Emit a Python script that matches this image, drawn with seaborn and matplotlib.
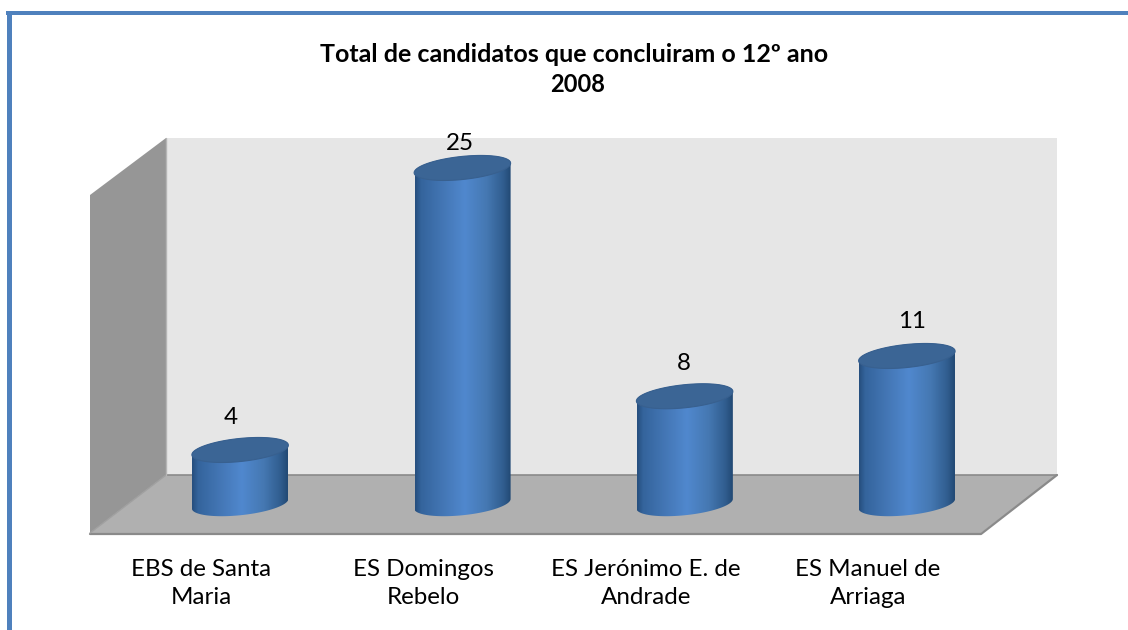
import numpy as np
import pandas as pd
import seaborn as sns
import matplotlib.pyplot as plt
from matplotlib.colors import LinearSegmentedColormap
from matplotlib.patches import Polygon, PathPatch
from matplotlib.path import Path
from matplotlib.transforms import Affine2D, IdentityTransform, ScaledTranslation

schools = ['EBS de Santa\nMaria', 'ES Domingos\nRebelo', 'ES Jerónimo E. de\nAndrade', 'ES Manuel de\nArriaga']
totals = [4, 25, 8, 11]
title_main = 'Total de candidatos que concluiram o 12º ano'
title_year = '2008'

W, H = 1128, 630
sns.set_theme(style='white')
plt.rcParams['font.family'] = ['Lato', 'DejaVu Sans']

fig = plt.figure(figsize=(W / 100, H / 100), dpi=100)
# pixel coords with origin top left, same as the picture
px = Affine2D().scale(1, -1).translate(0, H) + IdentityTransform()


def deco(points, color, z=-5):
    fig.add_artist(Polygon(points, closed=True, facecolor=color, edgecolor='none',
                           transform=px, zorder=z))


# frame
deco([(6, 11), (W, 11), (W, 15), (6, 15)], '#4f81bd')
deco([(7, 11), (12, 11), (12, H), (7, H)], '#4f81bd')

# 3d box behind the bars
deco([(166, 138), (1057, 138), (1057, 475), (166, 475)], '#e6e6e6')
deco([(90, 195), (166, 138), (166, 475), (90, 533)], '#969696')
deco([(90, 533), (166, 475), (1057, 475), (981, 533)], '#b0b0b0')
fig.add_artist(plt.Line2D([90, 981, 1057], [534, 534, 475], color='#8a8a8a', lw=1.6,
                          transform=px, zorder=-4))
fig.add_artist(plt.Line2D([166, 1057], [475, 475], color='#8a8a8a', lw=1.2,
                          transform=px, zorder=-4))
fig.add_artist(plt.Line2D([90, 166], [533, 475], color='#a0a0a0', lw=1,
                          transform=px, zorder=-4))
fig.add_artist(plt.Line2D([166, 166], [138, 475], color='#b5b5b5', lw=1,
                          transform=px, zorder=-4))

# axes area: 13.43 px per candidate, zero at y=503.7 px
top_px, bot_px = 140, 540
ax = fig.add_axes([129 / W, 1 - bot_px / H, (1018 - 129) / W, (bot_px - top_px) / H])
df = pd.DataFrame({'school': schools, 'total': totals})
sns.barplot(data=df, x='school', y='total', width=0.43, saturation=1, ax=ax)
ax.set_xlim(-0.5, 3.5)
ax.set_ylim((503.7 - bot_px) / 13.43, (503.7 - top_px) / 13.43)
ax.patch.set_visible(False)
sns.despine(ax=ax, left=True, bottom=True)
ax.set_yticks([])
ax.set_xlabel('')
ax.set_ylabel('')
ax.tick_params(axis='x', length=0, pad=13.5, labelsize=17.4, colors='black')
for lab in ax.get_xticklabels():
    lab.set_linespacing(1.45)
    lab.set_transform(lab.get_transform() + ScaledTranslation(-0.39, 0, fig.dpi_scale_trans))

cyl = LinearSegmentedColormap.from_list('cyl', [
    (0.0, '#264f7e'), (0.06, '#34649c'), (0.3, '#4477b6'), (0.52, '#5088ce'),
    (0.75, '#4578b2'), (0.92, '#315e90'), (1.0, '#234a75')])
grad = np.linspace(0, 1, 200).reshape(1, -1)
tilt = np.deg2rad(6)
a, b = 48.5, 11.5


def ring(cx, cy, t):
    return np.column_stack([cx + a * np.cos(t) * np.cos(tilt) - b * np.sin(t) * np.sin(tilt),
                            cy + a * np.cos(t) * np.sin(tilt) + b * np.sin(t) * np.cos(tilt)])


for bar in ax.patches:
    bar.set_facecolor('none')
    bar.set_edgecolor('none')
    x0, w, h = bar.get_x(), bar.get_width(), bar.get_height()
    cx, top_y = ax.transData.transform((x0 + w / 2, h))
    _, base_y = ax.transData.transform((x0 + w / 2, 0))
    body = np.vstack([ring(cx, base_y, np.linspace(np.pi, 2 * np.pi, 60)),
                      ring(cx, top_y, np.linspace(0, np.pi, 60))])
    im = ax.imshow(grad, cmap=cyl, aspect='auto', zorder=3, interpolation='bilinear',
                   extent=(x0, x0 + w, ax.get_ylim()[0], h + 1))
    im.set_clip_path(Path(np.vstack([body, body[:1]])), IdentityTransform())
    cap = ring(cx, top_y, np.linspace(0, 2 * np.pi, 120))
    ax.add_patch(PathPatch(Path(cap), facecolor='#3b6595', edgecolor='#38608f', lw=0.8,
                           transform=IdentityTransform(), zorder=4))

ax.set_xlim(-0.5, 3.5)
ax.set_ylim((503.7 - bot_px) / 13.43, (503.7 - top_px) / 13.43)

labels = ax.bar_label(ax.containers[0], padding=16, fontsize=17.4, color='black', zorder=5)
# the value labels are not centred on the cylinders in the original
label_shift = [(-6.5, 16), (-1.5, 10), (-0.7, 16), (3.5, 17)]
for lab, shift in zip(labels, label_shift):
    lab.xyann = shift

fig.text(574 / W, 1 - 54 / H, title_main, ha='center', va='center', fontsize=18,
         fontweight='bold', color='black')
fig.text(578 / W, 1 - 84 / H, title_year, ha='center', va='center', fontsize=17,
         fontweight='bold', color='black')

fig.savefig('out.png', dpi=100, facecolor='white')
